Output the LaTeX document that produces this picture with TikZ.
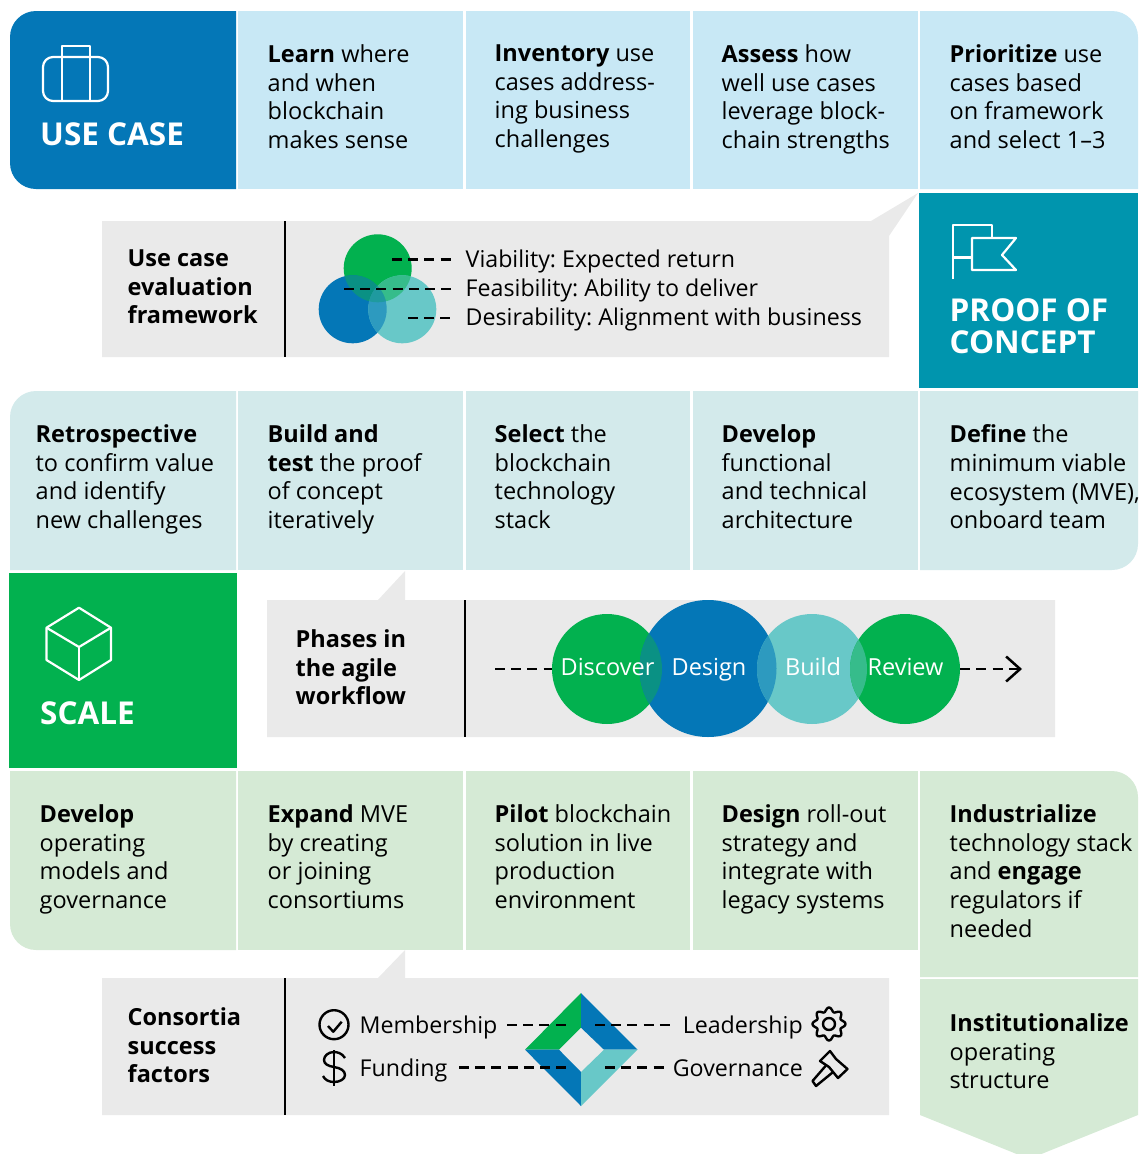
\documentclass[tikz,border=0pt]{standalone}
\usepackage{xcolor}
\usepackage{fontspec}
\setmainfont{Open Sans}
\frenchspacing
\usetikzlibrary{arrows.meta}
\definecolor{caseblue}{HTML}{0477B7}
\definecolor{casepale}{HTML}{C8E8F5}
\definecolor{pocteal}{HTML}{0095AE}
\definecolor{pocpale}{HTML}{D3EAEB}
\definecolor{scalegreen}{HTML}{02B14F}
\definecolor{scalepale}{HTML}{D5EAD5}
\definecolor{panelgrey}{HTML}{EAEAEA}
\definecolor{ringteal}{HTML}{68C8C8}
\definecolor{mixgb}{HTML}{0A9184}
\definecolor{mixgt}{HTML}{36BC8B}
\definecolor{mixbt}{HTML}{2D9ABF}
\definecolor{mixall}{HTML}{1F9A9F}
\tikzset{
  celltext/.style={anchor=north west,inner sep=0pt,align=left,yshift=17.5pt,xshift=-.5pt,
    font=\fontsize{23.5}{28.7}\selectfont,execute at begin node=\strut},
  phasetitle/.style={anchor=north west,inner sep=0pt,align=left,text=white,yshift=22.4pt,
    font=\fontsize{31.5}{32}\selectfont\bfseries,execute at begin node=\strut},
  lineleft/.style={anchor=base west,inner sep=0pt,font=\fontsize{23.2}{28.7}\selectfont},
  lineright/.style={anchor=base east,inner sep=0pt,font=\fontsize{23.2}{28.7}\selectfont},
  flowtext/.style={anchor=base,inner sep=0pt,text=white,font=\fontsize{23.5}{28.7}\selectfont},
  dashline/.style={line width=2.5pt,dash pattern=on 10pt off 6.2pt},
  iconline/.style={line width=2.2pt,white,line join=round},
  darkicon/.style={line width=2.4pt,black,line join=round},
  splitter/.style={line width=2.8pt,black},
  ring/.style={circle,inner sep=0pt,minimum size=#1}
}
\begin{document}
\begin{tikzpicture}[x=1pt,y=-1pt]
\useasboundingbox (0,0) rectangle (1138,1154);
% first row
\fill[caseblue] (236,11) [rounded corners=26pt] -- (10,11) -- (10,189) [sharp corners] -- (236,189) -- cycle;
\foreach \xa/\xb in {238/463,466/690,693/918}
  \fill[casepale] (\xa,11) rectangle (\xb,189);
\fill[casepale] (920,189) -- (920,11) [rounded corners=26pt] -- (1138,11) [sharp corners] -- (1138,189) -- cycle;
\draw[iconline,rounded corners=10pt] (43,57) rectangle (108,101);
\draw[iconline] (62,101) -- (62,46) -- (90,46) -- (90,101);
\node[phasetitle] (usecase) at (40,145) {USE CASE};
\node[celltext] (learn) at (268,62) {\textbf{Learn} where\\and when\\blockchain\\makes sense};
\node[celltext] (inventory) at (495,62) {\textbf{Inventory} use\\cases address-\\ing business\\challenges};
\node[celltext] (assess) at (722,62) {\textbf{Assess} how\\well use cases\\leverage block-\\chain strengths};
\node[celltext] (prioritize) at (950,62) {\textbf{Prioritize} use\\cases based\\on framework\\and select 1–3};
% evaluation panel
\fill[panelgrey] (102,221) -- (871,221) -- (918,193) -- (889,236) -- (889,357) -- (102,357) -- cycle;
\draw[splitter] (285,221) -- (285,357);
\node[celltext] (framework) at (128,267) {\textbf{Use case}\\\textbf{evaluation}\\\textbf{framework}};
\def\topcircle{(377.7,268.3) circle (34pt)}
\def\leftcircle{(352.7,309.3) circle (34pt)}
\def\rightcircle{(402.3,309.3) circle (34pt)}
\fill[scalegreen] \topcircle;
\fill[caseblue] \leftcircle;
\fill[ringteal] \rightcircle;
\begin{scope}
  \clip \topcircle;
  \fill[mixgb] \leftcircle;
  \fill[mixgt] \rightcircle;
  \clip \leftcircle;
  \fill[mixall] \rightcircle;
\end{scope}
\begin{scope}
  \clip \leftcircle;
  \clip \rightcircle;
  \fill[mixbt] (377.7,340) circle (40pt);
  \clip \topcircle;
  \fill[mixall] (377.7,300) circle (40pt);
\end{scope}
\foreach \name/\xa/\xb/\yy in {viable/392/451/259.7,feasible/344/451/289,desirable/408/451/318}{
  \coordinate (\name start) at (\xa,\yy);
  \coordinate (\name end) at (\xb,\yy);
  \draw[dashline] (\name start) -- (\name end);
}
\node[lineleft] (viability) at (465.5,267) {Viability: Expected return};
\node[lineleft] (feasibility) at (465.5,296) {Feasibility: Ability to deliver};
\node[lineleft] (desirability) at (465.5,325) {Desirability: Alignment with business};
% proof of concept
\fill[pocteal] (919,193) rectangle (1138,388);
\draw[iconline] (953,279) -- (953,225) -- (992,225) -- (992,238);
\draw[iconline] (953,257.5) -- (972,257.5);
\draw[iconline] (972,238) -- (1016,238) -- (1002,255) -- (1016,270) -- (972,270) -- cycle;
\node[phasetitle] (proof) at (949.5,321) {PROOF OF\\CONCEPT};
% second row
\fill[pocpale] (236,391) [rounded corners=26pt] -- (10,391) [sharp corners] -- (10,570) -- (236,570) -- cycle;
\foreach \xa/\xb in {238/463,466/690,693/918}
  \fill[pocpale] (\xa,391) rectangle (\xb,570);
\fill[pocpale] (920,391) -- (1138,391) [rounded corners=26pt] -- (1138,570) [sharp corners] -- (920,570) -- cycle;
\node[celltext] (retrospective) at (36,442) {\textbf{Retrospective}\\to confirm value\\and identify\\new challenges};
\node[celltext] (buildtest) at (268,442) {\textbf{Build and}\\\textbf{test} the proof\\of concept\\iteratively};
\node[celltext] (selectstack) at (495,442) {\textbf{Select} the\\blockchain\\technology\\stack};
\node[celltext] (developarch) at (722,442) {\textbf{Develop}\\functional\\and technical\\architecture};
\node[celltext] (definemve) at (950,442) {\textbf{Define} the\\minimum viable\\ecosystem (MVE),\\onboard team};
% scale
\fill[scalegreen] (9,573) rectangle (237,768);
\draw[iconline] (79,607.7) -- (111,627.7) -- (111,660) -- (79,680) -- (46.5,660) -- (46.5,627.7) -- cycle;
\draw[iconline] (46.5,627.7) -- (79,647) -- (111,627.7);
\draw[iconline] (79,647) -- (79,680);
\node[phasetitle] (scale) at (40,724) {SCALE};
% agile panel
\fill[panelgrey] (267,600) -- (378,600) -- (405,571) -- (405,600) -- (1055,600) -- (1055,737) -- (267,737) -- cycle;
\draw[splitter] (465,600) -- (465,737);
\node[celltext] (phases) at (296,647) {\textbf{Phases in}\\\textbf{the agile}\\\textbf{workflow}};
\def\discovercircle{(607,669) circle (55pt)}
\def\designcircle{(708,668.5) circle (68.5pt)}
\def\buildcircle{(812,669) circle (55pt)}
\def\reviewcircle{(905,669) circle (55pt)}
\node[ring=110pt,fill=scalegreen] (discoverring) at (607,669) {};
\node[ring=137pt,fill=caseblue] (designring) at (708,668.5) {};
\node[ring=110pt,fill=ringteal] (buildring) at (812,669) {};
\node[ring=110pt,fill=scalegreen] (reviewring) at (905,669) {};
\begin{scope}
  \clip \discovercircle;
  \fill[mixgb] \designcircle;
\end{scope}
\begin{scope}
  \clip \designcircle;
  \fill[mixbt] \buildcircle;
\end{scope}
\begin{scope}
  \clip \buildcircle;
  \fill[mixgt] \reviewcircle;
\end{scope}
\node[flowtext] (discover) at (607.5,675) {Discover};
\node[flowtext] (design) at (709,675) {Design};
\node[flowtext] (build) at (813,675) {Build};
\node[flowtext] (review) at (905.5,675) {Review};
\coordinate (flowstart) at (495,669);
\coordinate (flowend) at (1022,669);
\draw[dashline] (flowstart) -- (discoverring.west);
\draw[dashline,-{Straight Barb[length=14pt,width=25pt]}] (reviewring.east) -- (flowend);
% third row
\fill[scalepale] (236,771) -- (10,771) [rounded corners=26pt] -- (10,950) [sharp corners] -- (236,950) -- cycle;
\foreach \xa/\xb in {238/463,466/690,693/918}
  \fill[scalepale] (\xa,771) rectangle (\xb,950);
\fill[scalepale] (920,977) -- (920,771) [rounded corners=26pt] -- (1138,771) [sharp corners] -- (1138,977) -- cycle;
\fill[scalepale] (920,979) -- (1138,979) -- (1138,1115) -- (1029,1159) -- (920,1115) -- cycle;
\node[celltext] (developmodels) at (40,822) {\textbf{Develop}\\operating\\models and\\governance};
\node[celltext] (expand) at (268,822) {\textbf{Expand} MVE\\by creating\\or joining\\consortiums};
\node[celltext] (pilot) at (495,822) {\textbf{Pilot} blockchain\\solution in live\\production\\environment};
\node[celltext] (designroll) at (722,822) {\textbf{Design} roll-out\\strategy and\\integrate with\\legacy systems};
\node[celltext] (industrialize) at (950,822) {\textbf{Industrialize}\\technology stack\\and \textbf{engage}\\regulators if\\needed};
\node[celltext] (institutionalize) at (950,1031) {\textbf{Institutionalize}\\operating\\structure};
% consortia panel
\fill[panelgrey] (102,978) -- (378,978) -- (405,950) -- (405,978) -- (889,978) -- (889,1115) -- (102,1115) -- cycle;
\draw[splitter] (285,978) -- (285,1115);
\node[celltext] (consortia) at (128,1025) {\textbf{Consortia}\\\textbf{success}\\\textbf{factors}};
\fill[scalegreen] (581,993) -- (525,1049.7) -- (559,1049.7) -- (581,1027.7) -- cycle;
\fill[caseblue] (581,993) -- (637.5,1049.7) -- (604,1049.7) -- (581,1027.7) -- cycle;
\fill[caseblue] (581,1106) -- (525,1049.7) -- (559,1049.7) -- (581,1072) -- cycle;
\fill[ringteal] (581,1106) -- (637.5,1049.7) -- (604,1049.7) -- (581,1072) -- cycle;
\foreach \name/\xa/\xb/\yy in {member/507/566/1025,fund/459/566/1067.7,lead/595/670/1025,govern/605/664/1067.7}{
  \coordinate (\name start) at (\xa,\yy);
  \coordinate (\name end) at (\xb,\yy);
  \draw[dashline] (\name start) -- (\name end);
}
\node[lineleft] (membership) at (359.5,1033) {Membership};
\node[lineleft] (funding) at (359.5,1076) {Funding};
\node[lineright] (leadership) at (803,1033) {Leadership};
\node[lineright] (governance) at (803,1076) {Governance};
% small icons
\draw[darkicon] (334,1024.7) circle (14.5pt);
\draw[darkicon] (328,1026) -- (333.3,1031.7) -- (341.7,1021.7);
\draw[darkicon] (345,1058) .. controls (342,1053) and (337,1052) .. (334,1052) .. controls (328,1052) and (324,1056) .. (324,1060) .. controls (324,1064) and (328,1066) .. (334,1067) .. controls (341,1068) and (345,1071) .. (345,1075) .. controls (345,1079) and (340,1082) .. (334,1082) .. controls (329,1082) and (325,1080) .. (323,1076);
\draw[darkicon] (334,1050) -- (334,1086);
\draw[darkicon] (829,1024) circle (6pt);
\draw[darkicon] plot[domain=0:360,samples=97] ({829+(14.5+2*cos(8*\x))*cos(\x)},{1024+(14.5+2*cos(8*\x))*sin(\x)});
\draw[darkicon] (820,1061) -- (830,1051) -- (836,1059) -- (847.5,1069) -- (838,1078) -- (829,1067) -- cycle;
\draw[darkicon] (825.5,1066) -- (812.5,1081) -- (816,1086) -- (832.5,1072.5);
\end{tikzpicture}
\end{document}
